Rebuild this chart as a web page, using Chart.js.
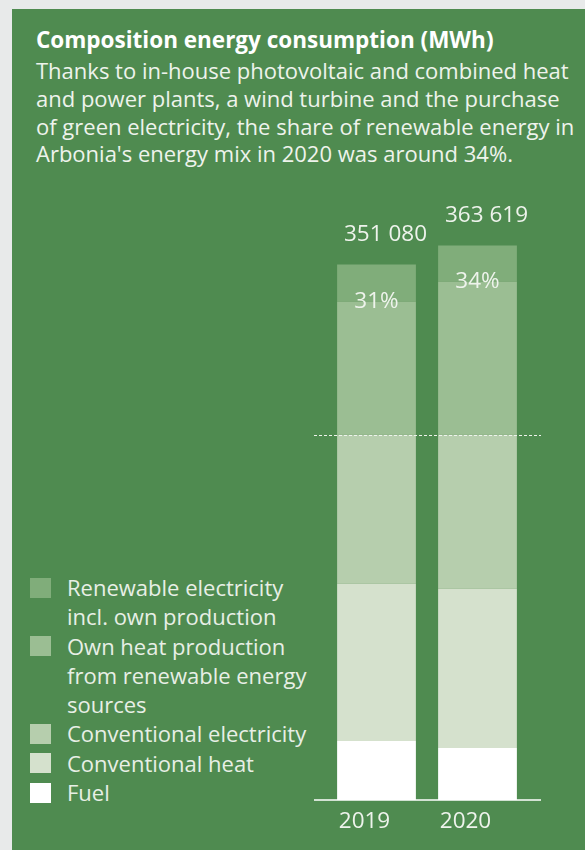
<!DOCTYPE html>
<html>
<head>
<meta charset="utf-8">
<script src="https://cdn.jsdelivr.net/npm/chart.js@4.4.1/dist/chart.umd.min.js"></script>
<style>
  body { margin: 0; background: #e8eaea; width: 585px; height: 850px; overflow: hidden; font-family: "Open Sans", sans-serif; }
  .panel { position: absolute; left: 12px; top: 9px; width: 573px; height: 841px; background: #4f8b50; }
  .title { position: absolute; left: 36px; top: 26px; color: #ffffff; font-weight: bold; font-size: 22.5px; line-height: 28px; white-space: nowrap; }
  .subtitle { position: absolute; left: 36px; top: 57px; color: #eef3ec; font-size: 22px; line-height: 27.8px; white-space: nowrap; }
  .legend { position: absolute; left: 30px; top: 573px; color: #e8efe6; font-size: 22px; line-height: 29.3px; white-space: nowrap; }
  .legend .row { position: relative; padding-left: 37px; }
  .legend .sq { position: absolute; left: 0; top: 4.5px; width: 21px; height: 20px; }
  #wrap { position: absolute; left: 300px; top: 170px; width: 270px; height: 680px; }
</style>
</head>
<body>
<div class="panel"></div>
<div class="title">Composition energy consumption (MWh)</div>
<div class="subtitle">Thanks to in-house photovoltaic and combined heat<br>and power plants, a wind turbine and the purchase<br>of green electricity, the share of renewable energy in<br>Arbonia's energy mix in 2020 was around 34%.</div>
<div class="legend" id="legend"></div>
<div id="wrap"><canvas id="chart" width="270" height="680"></canvas></div>
<script>
// data (MWh)
const years = ['2019', '2020'];
const fuel = [38716, 34122];
const conventionalHeat = [103023, 104336];
const conventionalElectricity = [97774, 101055];
const ownHeatRenewable = [87275, 100399];
const renewableElectricity = [24292, 23707];
const totalLabels = ['351 080', '363 619'];
const shareLabels = ['31%', '34%'];

// legend (top to bottom), lines split like the original
const legendNames = [
    ['Renewable electricity', 'incl. own production'],
    ['Own heat production', 'from renewable energy', 'sources'],
    ['Conventional electricity'],
    ['Conventional heat'],
    ['Fuel']
];
const legendColors = ['#80ad7a', '#9bbe93', '#b6cead', '#d5e1cd', '#ffffff'];

const legendBox = document.getElementById('legend');
legendNames.forEach((lines, i) => {
    const row = document.createElement('div');
    row.className = 'row';
    row.innerHTML = `<span class="sq" style="background:${legendColors[i]}"></span>${lines.join('<br>')}`;
    legendBox.appendChild(row);
});

// conventional part ends at the dashed line
const dashLevel = fuel[0] + conventionalHeat[0] + conventionalElectricity[0];

const overlay = {
    id: 'overlay',
    afterDatasetsDraw(chart) {
        const ctx = chart.ctx;
        const area = chart.chartArea;
        const y = chart.scales.y;
        const top = chart.getDatasetMeta(4).data;
        const ownHeat = chart.getDatasetMeta(3).data;

        ctx.save();
        // dashed line between renewable and conventional
        ctx.strokeStyle = '#eef3ec';
        ctx.lineWidth = 1;
        ctx.setLineDash([3, 2]);
        ctx.beginPath();
        const dy = Math.round(y.getPixelForValue(dashLevel)) + 0.5;
        ctx.moveTo(area.left - 12, dy);
        ctx.lineTo(area.right + 13, dy);
        ctx.stroke();

        // base line
        ctx.setLineDash([]);
        ctx.strokeStyle = '#ffffff';
        ctx.lineWidth = 1.5;
        ctx.beginPath();
        const by = y.getPixelForValue(0);
        ctx.moveTo(area.left - 12, by);
        ctx.lineTo(area.right + 13, by);
        ctx.stroke();

        ctx.font = '22.5px "Open Sans", sans-serif';
        ctx.fillStyle = '#eef3ec';
        ctx.textAlign = 'center';
        ctx.textBaseline = 'middle';
        top.forEach((bar, i) => {
            ctx.fillText(totalLabels[i], bar.x + 9, bar.y - 30);
            ctx.fillText(shareLabels[i], bar.x, ownHeat[i].y);
            ctx.fillText(years[i], bar.x - 12, by + 22);
        });
        ctx.restore();
    }
};

new Chart(document.getElementById('chart'), {
    type: 'bar',
    data: {
        labels: years,
        datasets: [
            { label: 'Fuel', data: fuel, backgroundColor: legendColors[4] },
            { label: 'Conventional heat', data: conventionalHeat, backgroundColor: legendColors[3] },
            { label: 'Conventional electricity', data: conventionalElectricity, backgroundColor: legendColors[2] },
            { label: 'Own heat production from renewable energy sources', data: ownHeatRenewable, backgroundColor: legendColors[1] },
            { label: 'Renewable electricity incl. own production', data: renewableElectricity, backgroundColor: legendColors[0] }
        ]
    },
    options: {
        responsive: false,
        animation: false,
        layout: { padding: { left: 26, right: 42, top: 20, bottom: 50 } },
        datasets: { bar: { barPercentage: 0.78, categoryPercentage: 1, borderWidth: 0 } },
        scales: {
            x: { stacked: true, display: false },
            y: { stacked: true, display: false, min: 0, max: 400000 }
        },
        plugins: { legend: { display: false }, tooltip: { enabled: false } }
    },
    plugins: [overlay]
});
</script>
</body>
</html>
